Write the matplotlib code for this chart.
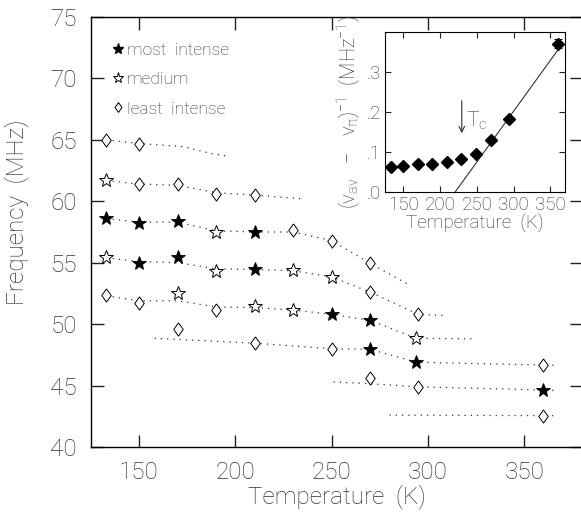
import matplotlib
matplotlib.use("Agg")
import matplotlib.pyplot as plt
from matplotlib.lines import Line2D

plt.rcParams['font.family'] = ['Roboto', 'DejaVu Sans']
plt.rcParams['font.weight'] = 'light'
plt.rcParams['axes.labelweight'] = 'light'
plt.rcParams['mathtext.fontset'] = 'custom'
plt.rcParams['mathtext.rm'] = 'Roboto:light'
plt.rcParams['mathtext.it'] = 'Roboto:light'
plt.rcParams['mathtext.bf'] = 'Roboto:bold'

TXT = '#333333'

# ---- frequency branches: measured points (T, f, intensity class) ----
# intensity: 'F' = most intense, 'O' = medium, 'D' = least intense
branch_T = [
    [133, 150],
    [133, 150, 170, 190, 210],
    [133, 150, 170, 190, 210, 230, 250, 270],
    [133, 150, 170, 190, 210, 230, 250, 270, 295],
    [133, 150, 170, 190, 210, 230, 250, 270, 294],
    [170, 210, 250, 270, 294, 360],
    [270, 295, 360],
    [360],
]
branch_f = [
    [65.0, 64.7],
    [61.7, 61.4, 61.4, 60.6, 60.5],
    [58.6, 58.25, 58.4, 57.5, 57.5, 57.65, 56.8, 54.95],
    [55.5, 54.95, 55.5, 54.3, 54.45, 54.4, 53.85, 52.6, 50.8],
    [52.4, 51.75, 52.55, 51.15, 51.5, 51.15, 50.8, 50.3, 48.85],
    [49.6, 48.45, 48.0, 48.0, 46.9, 46.67],
    [45.64, 44.9, 44.64],
    [42.55],
]
branch_kind = [
    "DD",
    "ODDDD",
    "FFFOFDDD",
    "OFFOFOODD",
    "DDODOOFFO",
    "DDDFFD",
    "DDF",
    "D",
]

# ---- dotted guide curves for each branch ----
curve_T = [
    [133, 150, 173, 187, 195],
    [133, 150, 170, 190, 210, 235],
    [133, 150, 170, 190, 210, 230, 250, 270, 289],
    [133, 150, 170, 190, 210, 230, 250, 270, 295, 309],
    [133, 150, 170, 190, 210, 230, 250, 270, 294, 325],
    [158, 210, 250, 270, 294, 360, 366],
    [251, 270, 295, 360, 366],
    [280, 360, 366],
]
curve_f = [
    [65.0, 64.7, 64.45, 63.9, 63.7],
    [61.7, 61.4, 61.3, 60.7, 60.5, 60.2],
    [58.6, 58.3, 58.3, 57.6, 57.5, 57.5, 56.8, 54.95, 53.3],
    [55.4, 55.1, 55.0, 54.5, 54.45, 54.35, 53.85, 52.6, 50.8, 50.7],
    [52.3, 51.9, 51.9, 51.4, 51.35, 51.15, 50.8, 50.3, 48.85, 48.8],
    [48.85, 48.45, 48.0, 47.95, 46.9, 46.67, 46.65],
    [45.3, 45.15, 44.9, 44.64, 44.6],
    [42.6, 42.55, 42.55],
]

# ---- inset: inverse splitting vs temperature ----
inset_T = [133, 150, 170, 189, 209, 229, 249, 269, 294, 361]
inset_v = [0.0625, 0.065, 0.069, 0.071, 0.074, 0.082, 0.096, 0.131, 0.1825, 0.371]
inset_err = [0, 0, 0, 0, 0, 0, 0, 0, 0, 0.012]
fit_T = [220.5, 366]
fit_v = [0.0, 0.3695]
Tc = 229.5

xticks = [150, 200, 250, 300, 350]
yticks = [40, 45, 50, 55, 60, 65, 70, 75]
inset_yticks = [0.0, 0.1, 0.2, 0.3]
inset_ylabels = ['.0', '.1', '.2', '.3']

fig = plt.figure(figsize=(5.81, 5.14), dpi=100)
ax = fig.add_axes([91 / 581, 1 - 447 / 514, 491 / 581, 430 / 514])

for ct, cf in zip(curve_T, curve_f):
    ax.plot(ct, cf, linestyle=(0, (1, 4)), color='#333333', lw=0.9)

diamond = [(0, 1), (0.72, 0), (0, -1), (-0.72, 0), (0, 1)]
style = {
    'F': dict(marker='*', ms=10, mfc='black', mec='black', mew=0.6),
    'O': dict(marker='*', ms=10, mfc='white', mec='black', mew=0.7),
    'D': dict(marker=diamond, ms=9.5, mfc='white', mec='black', mew=0.7),
}
for bt, bf, bk in zip(branch_T, branch_f, branch_kind):
    for t, f, k in zip(bt, bf, bk):
        ax.plot([t], [f], linestyle='none', zorder=3, **style[k])

ax.set_xlim(125, 380)
ax.set_ylim(40, 75)
ax.set_xticks(xticks)
ax.set_yticks(yticks)
ax.tick_params(direction='in', length=9, width=1.0, top=True, right=True,
               labelsize=17.5, colors='#222222', labelcolor=TXT, pad=10)
ax.spines['right'].set_visible(False)
for s in ['left', 'top', 'bottom']:
    ax.spines[s].set_linewidth(1.0)
ax.set_xlabel('Temperature  (K)', fontsize=17.5, color=TXT, labelpad=0)
ax.set_ylabel('Frequency  (MHz)', fontsize=17.5, color=TXT, labelpad=0)
ax.yaxis.set_label_coords(-0.127, 0.545)

handles = [
    Line2D([], [], linestyle='none', marker='*', ms=8, mfc='black', mec='black'),
    Line2D([], [], linestyle='none', marker='*', ms=8, mfc='white', mec='black', mew=0.7),
    Line2D([], [], linestyle='none', marker=diamond, ms=7, mfc='white', mec='black', mew=0.7),
]
ax.legend(handles, ['most  intense', 'medium', 'least  intense'], loc='upper left',
          frameon=False, fontsize=12.5, handlelength=0.6, handletextpad=0.2,
          labelspacing=0.8, borderaxespad=0.0, bbox_to_anchor=(0.03, 0.955),
          labelcolor=TXT)

# ---- inset ----
ins = fig.add_axes([385 / 581, 1 - 192 / 514, 180 / 581, 160 / 514])
ins.plot(fit_T, fit_v, color='#333333', lw=0.8)
ins.errorbar(inset_T, inset_v, yerr=inset_err, fmt='D', ms=6, color='black',
             ecolor='black', elinewidth=0.7, capsize=3, capthick=0.7)
ins.annotate('', xy=(Tc, 0.14), xytext=(Tc, 0.235),
             arrowprops=dict(arrowstyle='->', color='#333333', lw=0.8))
ins.text(Tc + 6, 0.162, r'T$_\mathregular{c}$', fontsize=15, color=TXT)
ins.set_xlim(125, 370)
ins.set_ylim(0, 0.4)
ins.set_xticks(xticks)
ins.set_yticks(inset_yticks)
ins.set_yticklabels(inset_ylabels)
ins.tick_params(direction='in', length=4, width=0.8, top=True, right=True,
                labelsize=13.5, colors='#222222', labelcolor=TXT, pad=3)
for s in ins.spines.values():
    s.set_linewidth(0.8)
ins.set_xlabel('Temperature  (K)', fontsize=13.5, color=TXT, labelpad=0)
ins.set_ylabel(r'$(\nu_{av}\ \ -\ \ \nu_{\pi})^{-1}$  (MHz$^{-1}$)', fontsize=14.5,
               color=TXT, labelpad=3)

fig.savefig('out.png', dpi=100)
